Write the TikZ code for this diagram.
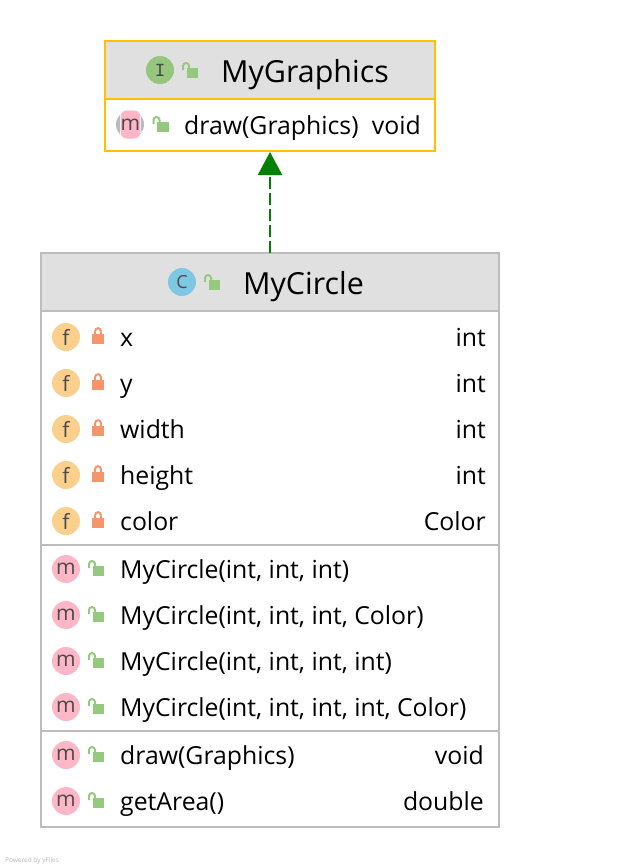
\documentclass[tikz,border=0pt]{standalone}
\usepackage{fontspec}
\usepackage{xcolor}
\setmainfont{Open Sans}
\usetikzlibrary{arrows.meta}
\definecolor{headgray}{HTML}{E0E0E0}
\definecolor{edgegray}{HTML}{BDBDBD}
\definecolor{edgeyellow}{HTML}{FFC000}
\definecolor{fieldtone}{HTML}{FBCF8C}
\definecolor{methodtone}{HTML}{FFB6C6}
\definecolor{classtone}{HTML}{7FC8E4}
\definecolor{facetone}{HTML}{96C67D}
\definecolor{ringtone}{HTML}{B5BCC2}
\definecolor{privtone}{HTML}{F4956B}
\definecolor{pubtone}{HTML}{94C97F}
\definecolor{linktone}{HTML}{008000}
\definecolor{lettertone}{HTML}{4A4A4A}
\tikzset{
	umlbox/.style={draw, line width=2pt, inner sep=0pt, outer sep=0pt, anchor=north west},
	umlhead/.style={fill=headgray, draw, line width=2pt, inner sep=0pt, outer sep=0pt, anchor=north west},
	badge/.style={circle, minimum size=28pt, inner sep=0pt, text=lettertone, font=\fontsize{21}{21}\selectfont},
	rowtext/.style={anchor=base west, inner sep=0pt, font=\fontsize{24.8}{24.8}\selectfont},
	typetext/.style={anchor=base east, inner sep=0pt, font=\fontsize{24.8}{24.8}\selectfont},
	titletext/.style={anchor=base west, inner sep=0pt, font=\fontsize{30.4}{30.4}\selectfont},
	pics/shutlock/.style={code={
		\draw[privtone, line width=2pt] (-2.8,-3) -- (-2.8,-6) arc[start angle=180, end angle=360, radius=2.8] -- (2.8,-3);
		\fill[privtone] (-6,-3.5) rectangle (6,7);
	}},
	pics/openlock/.style={code={
		\draw[pubtone, line width=2pt] (-9,-1) -- (-9,-5) arc[start angle=180, end angle=360, radius=3] -- (-3,-2);
		\fill[pubtone] (-5.5,-3) rectangle (6,7);
	}},
}
\begin{document}
\begin{tikzpicture}[x=1pt, y=-1pt]
	\useasboundingbox (0,0) rectangle (640,868);

	% Interface box
	\node[umlbox, draw=edgeyellow, minimum width=330pt, minimum height=110pt] (graphics) at (105,41) {};
	\node[umlhead, draw=edgeyellow, minimum width=330pt, minimum height=58pt] (graphicshead) at (105,41) {};
	\node[badge, fill=facetone, font=\ttfamily\bfseries\fontsize{20}{20}\selectfont] (graphicsbadge) at (160,70) {I};
	\pic at (192,71) {openlock};
	\node[titletext] (graphicstitle) at (221,82) {MyGraphics};

	% Interface method
	\fill[ringtone] (130,124.5) circle (14);
	\begin{scope}
		\clip (130,124.5) circle (14);
		\fill[white] (119.5,108) rectangle (140.5,140);
	\end{scope}
	\node[badge, minimum size=0pt, minimum width=17pt, minimum height=28pt, rounded corners=6pt, shape=rectangle, fill=methodtone] (drawbadge) at (130.5,124.5) {m};
	\pic at (162.5,125) {openlock};
	\node[rowtext] (drawname) at (184,134) {draw(Graphics)};
	\node[typetext] (drawtype) at (421,134) {void};

	% Class box
	\node[umlbox, draw=edgegray, minimum width=458pt, minimum height=574pt] (circle) at (41,253) {};
	\node[umlhead, draw=edgegray, minimum width=458pt, minimum height=58pt] (circlehead) at (41,253) {};
	\node[badge, fill=classtone, font=\fontsize{18}{18}\selectfont] (circlebadge) at (182,282) {C};
	\pic at (214,283) {openlock};
	\node[titletext] (circletitle) at (243,294) {MyCircle};

	% Dividers
	\draw[edgegray, line width=2pt] (circle.west |- 0,545) -- (circle.east |- 0,545);
	\draw[edgegray, line width=2pt] (circle.west |- 0,731) -- (circle.east |- 0,731);

	% Fields
	\foreach \y/\name/\kind [count=\i] in {337/x/int, 383/y/int, 429/width/int, 475/height/int, 521/color/Color} {
		\node[badge, fill=fieldtone] (fieldbadge\i) at (66,\y) {f};
		\pic at (98,\y) {shutlock};
		\node[rowtext] (fieldname\i) at (120,\y+9) {\name};
		\node[typetext] (fieldtype\i) at (486,\y+9) {\kind};
	}

	% Constructors
	\foreach \y/\name [count=\i] in {569/{MyCircle(int, int, int)}, 615/{MyCircle(int, int, int, Color)}, 661/{MyCircle(int, int, int, int)}, 707/{MyCircle(int, int, int, int, Color)}} {
		\node[badge, fill=methodtone] (initbadge\i) at (66,\y) {m};
		\pic at (98,\y) {openlock};
		\node[rowtext] (initname\i) at (120,\y+9) {\name};
	}

	% Methods
	\foreach \y/\name/\kind [count=\i] in {755/{draw(Graphics)}/void, 801/{getArea()}/double} {
		\node[badge, fill=methodtone] (methodbadge\i) at (66,\y) {m};
		\pic at (98,\y) {openlock};
		\node[rowtext] (methodname\i) at (120,\y+9) {\name};
		\node[typetext] (methodtype\i) at (484,\y+9) {\kind};
	}

	% Realization
	\draw[linktone, line width=2pt, dash pattern=on 12pt off 4pt, shorten >=1pt, -{Triangle[length=23pt, width=24pt]}] (circle.north) -- (graphics.south);

	% Footer
	\node[anchor=base west, inner sep=0pt, text=black!28, font=\fontsize{6.5}{6.5}\selectfont] (poweredby) at (5,862) {Powered by yFiles};

\end{tikzpicture}
\end{document}
